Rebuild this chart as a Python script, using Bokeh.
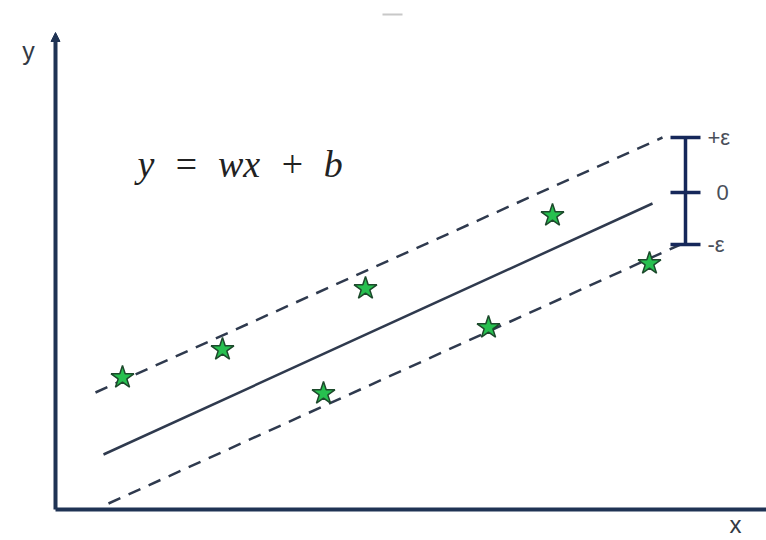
from bokeh.plotting import figure
from bokeh.models import Range1d, Arrow, NormalHead
from bokeh.core.properties import value
from bokeh.embed import file_html
from bokeh.resources import INLINE

# Data (diagram units: origin at the axis corner, y upward)
star_x = [67, 167, 310, 268, 433, 497, 594]
star_y = [132, 160, 221, 116, 182, 294, 246]

fit_x = [48, 597]
fit_y = [55, 306]
upper_x = [40, 607]
upper_y = [117, 372]
lower_x = [53, 625]
lower_y = [6, 265]

eps_x = 630
eps_levels = [372, 317, 265]
eps_labels = ["+ε", "0", "-ε"]

axis_top = 477
axis_right = 711

p = figure(width=766, height=540, output_backend="svg", toolbar_location=None,
           x_range=Range1d(-55, 711), y_range=Range1d(-31, 509),
           min_border=0, min_border_left=0, min_border_right=0,
           min_border_top=0, min_border_bottom=0)
p.axis.visible = False
p.grid.visible = False
p.outline_line_color = None
p.background_fill_color = "white"
p.border_fill_color = "white"

axis_color = "#1f3354"
line_color = "#2f3a4e"

# axes
p.line([0, axis_right], [0, 0], line_color=axis_color, line_width=4)
p.add_layout(Arrow(end=NormalHead(size=9, fill_color=axis_color, line_color=axis_color),
                   x_start=0, y_start=0, x_end=0, y_end=axis_top,
                   line_color=axis_color, line_width=4))

# regression line and epsilon tube
p.line(fit_x, fit_y, line_color=line_color, line_width=2.5)
p.line(upper_x, upper_y, line_color=line_color, line_width=2.5, line_dash="13 9")
p.line(lower_x, lower_y, line_color=line_color, line_width=2.5, line_dash="13 9")

# epsilon bar
p.line([eps_x, eps_x], [eps_levels[0], eps_levels[-1]], line_color="#16285a", line_width=3.5)
p.segment(x0=[eps_x - 15] * 3, x1=[eps_x + 15] * 3, y0=eps_levels, y1=eps_levels,
          line_color="#16285a", line_width=3.5)
p.text(x=[eps_x + 22, eps_x + 31, eps_x + 22], y=eps_levels, text=eps_labels,
       text_font=value("Liberation Sans"), text_font_size="22px", text_color="#4a4f5a",
       text_baseline="middle", text_align="left")

# data points
p.scatter(star_x, star_y, marker="star", size=24, fill_color="#27c04f",
          line_color="#1d4a2c", line_width=1.5)

# labels
p.text(x=[-27], y=[459], text=["y"], text_font=value("Liberation Sans"),
       text_font_size="25px", text_color="#333a44", text_align="center",
       text_baseline="middle")
p.text(x=[680], y=[-15], text=["x"], text_font=value("Liberation Sans"),
       text_font_size="24px", text_color="#333a44", text_align="center",
       text_baseline="middle")
nb = "\u00a0"
p.text(x=[82], y=[346], text=["y" + nb * 2 + "=" + nb * 2 + "wx" + nb * 2 + "+" + nb * 2 + "b"],
       text_font=value("Liberation Serif"),
       text_font_style="italic", text_font_size="38px", text_color="#222222",
       text_align="left", text_baseline="alphabetic")

# faint artifact at top
p.line([327, 347], [495, 495], line_color="#c8c8c8", line_width=2)

open("out.html", "w").write(file_html(p, INLINE))
